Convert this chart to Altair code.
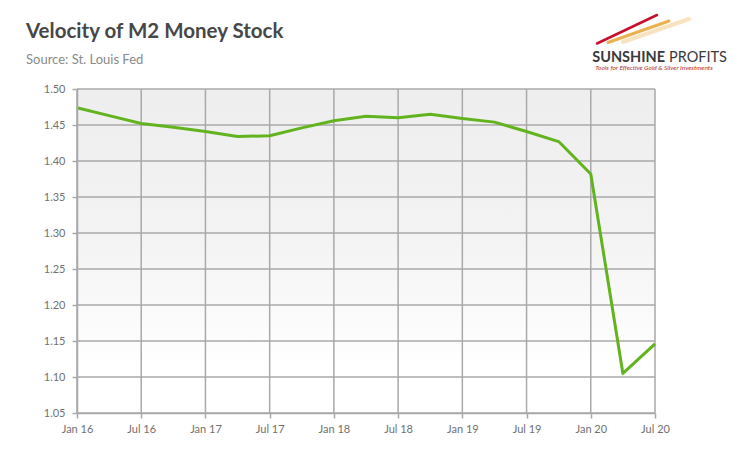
import altair as alt
import pandas as pd

quarters = ["Jan 16", "Apr 16", "Jul 16", "Oct 16",
            "Jan 17", "Apr 17", "Jul 17", "Oct 17",
            "Jan 18", "Apr 18", "Jul 18", "Oct 18",
            "Jan 19", "Apr 19", "Jul 19", "Oct 19",
            "Jan 20", "Apr 20", "Jul 20"]
velocity = [1.474, 1.463, 1.452, 1.447,
            1.441, 1.434, 1.435, 1.446,
            1.456, 1.462, 1.460, 1.465,
            1.459, 1.454, 1.441, 1.427,
            1.382, 1.105, 1.146]
x_ticks = ["Jan 16", "Jul 16", "Jan 17", "Jul 17", "Jan 18", "Jul 18",
           "Jan 19", "Jul 19", "Jan 20", "Jul 20"]
y_ticks = [1.05, 1.10, 1.15, 1.20, 1.25, 1.30, 1.35, 1.40, 1.45, 1.50]

title_text = "Velocity of M2 Money Stock"
subtitle_text = "Source: St. Louis Fed"
logo_bold = "SUNSHINE"
logo_regular = "PROFITS"
logo_tagline = "Tools for Effective Gold & Silver Investments"

W, H = 578, 324
FONT = "Lato"
GRID = "#a9a9a9"

df = pd.DataFrame({"quarter": quarters, "v": velocity})
xdf = pd.DataFrame({"quarter": x_ticks})
ydf = pd.DataFrame({"v": y_ticks})
one = pd.DataFrame({"k": [0]})

xscale = alt.Scale(type="point", domain=quarters, padding=0)
yscale = alt.Scale(domain=[1.05, 1.50], nice=False, zero=False)
xaxis = alt.Axis(values=x_ticks, labelAngle=0, title=None, grid=False,
                 domainColor=GRID, tickColor=GRID, tickSize=5, domainWidth=1.5,
                 tickWidth=1.5, labelColor="#707070", labelFont=FONT,
                 labelFontSize=11, labelPadding=5, zindex=1)
yaxis = alt.Axis(values=y_ticks, format=".2f", title=None, grid=False,
                 domainColor=GRID, tickColor=GRID, tickSize=5, domainWidth=1.5,
                 tickWidth=1.5, labelColor="#707070", labelFont=FONT,
                 labelFontSize=11, labelPadding=7, zindex=1)

bg = alt.Chart(one).mark_rect(
    fill=alt.LinearGradient(
        gradient="linear",
        stops=[alt.GradientStop(color="#eeeeee", offset=0),
               alt.GradientStop(color="#f3f3f3", offset=0.45),
               alt.GradientStop(color="#ffffff", offset=0.85),
               alt.GradientStop(color="#ffffff", offset=1)],
        x1=0, x2=0, y1=0, y2=1)
).encode(x=alt.value(0), x2=alt.value(W), y=alt.value(0), y2=alt.value(H))

hgrid = alt.Chart(ydf).mark_rule(color=GRID, strokeWidth=1.5).encode(
    y=alt.Y("v:Q", scale=yscale, axis=yaxis))
vgrid = alt.Chart(xdf).mark_rule(color=GRID, strokeWidth=1.5).encode(
    x=alt.X("quarter:O", scale=xscale, axis=xaxis, sort=None))

line = alt.Chart(df).mark_line(color="#62b41f", strokeWidth=3,
                               strokeJoin="round").encode(
    x=alt.X("quarter:O", scale=xscale, axis=xaxis, sort=None),
    y=alt.Y("v:Q", scale=yscale, axis=yaxis))

title = alt.Chart(pd.DataFrame({"t": [title_text]})).mark_text(
    align="left", baseline="alphabetic", font=FONT, fontSize=20.5,
    fontWeight="bold", color="#474747").encode(
    x=alt.value(-51), y=alt.value(-51), text="t:N")
subtitle = alt.Chart(pd.DataFrame({"t": [subtitle_text]})).mark_text(
    align="left", baseline="alphabetic", font=FONT, fontSize=13,
    color="#8a8a8a").encode(x=alt.value(-51), y=alt.value(-25), text="t:N")

logo1 = alt.Chart(pd.DataFrame({"t": [logo_bold]})).mark_text(
    align="right", baseline="alphabetic", font=FONT, fontSize=14.5,
    fontWeight="bold", color="#3a3a3a").encode(
    x=alt.value(588), y=alt.value(-27), text="t:N")
logo2 = alt.Chart(pd.DataFrame({"t": [logo_regular]})).mark_text(
    align="left", baseline="alphabetic", font=FONT, fontSize=14.5,
    color="#3a3a3a").encode(x=alt.value(592), y=alt.value(-27), text="t:N")
logo3 = alt.Chart(pd.DataFrame({"t": [logo_tagline]})).mark_text(
    align="center", baseline="alphabetic", font=FONT, fontSize=6.5,
    fontStyle="italic", color="#b0302a").encode(
    x=alt.value(577), y=alt.value(-19), text="t:N")

streak_light = alt.Chart(one).mark_rule(color="#f5dcb0", strokeWidth=4,
                                        opacity=0.8, strokeCap="round").encode(
    x=alt.value(546), x2=alt.value(612), y=alt.value(-47), y2=alt.value(-70))
streak_orange = alt.Chart(one).mark_rule(color="#e9a83c", strokeWidth=3,
                                         opacity=0.9, strokeCap="round").encode(
    x=alt.value(531), x2=alt.value(592), y=alt.value(-46.5), y2=alt.value(-68))
streak_red = alt.Chart(one).mark_rule(color="#c8102e", strokeWidth=2.5,
                                      strokeCap="round").encode(
    x=alt.value(520), x2=alt.value(580), y=alt.value(-45.5), y2=alt.value(-74))

chart = alt.layer(
    bg, hgrid, vgrid, line, title, subtitle,
    streak_light, streak_orange, streak_red, logo1, logo2, logo3
).properties(
    width=W, height=H,
    autosize=alt.AutoSizeParams(type="none"),
    padding={"left": 69, "top": 81, "right": 77, "bottom": 34},
    background="white",
).configure_view(stroke=None)

chart.save("out.html", embed_options={"renderer": "svg", "actions": False})
